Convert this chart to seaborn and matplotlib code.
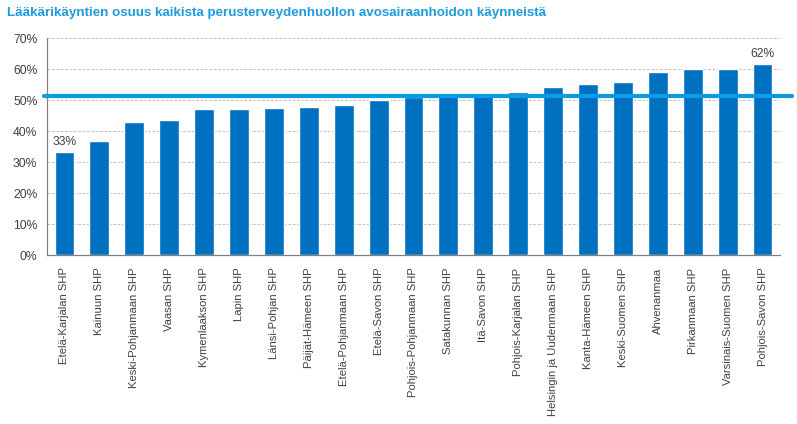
import matplotlib
matplotlib.use("Agg")
import matplotlib.pyplot as plt
import matplotlib.ticker as mticker
import seaborn as sns
import pandas as pd

# data
regions = [
    "Etelä-Karjalan SHP", "Kainuun SHP", "Keski-Pohjanmaan SHP", "Vaasan SHP",
    "Kymenlaakson SHP", "Lapin SHP", "Länsi-Pohjan SHP", "Päijät-Hämeen SHP",
    "Etelä-Pohjanmaan SHP", "Etelä-Savon SHP", "Pohjois-Pohjanmaan SHP",
    "Satakunnan SHP", "Itä-Savon SHP", "Pohjois-Karjalan SHP",
    "Helsingin ja Uudenmaan SHP", "Kanta-Hämeen SHP", "Keski-Suomen SHP",
    "Ahvenanmaa", "Pirkanmaan SHP", "Varsinais-Suomen SHP", "Pohjois-Savon SHP",
]
share = [0.333, 0.368, 0.429, 0.435, 0.471, 0.473, 0.476, 0.479, 0.485, 0.500,
         0.510, 0.512, 0.514, 0.526, 0.542, 0.551, 0.559, 0.590, 0.600, 0.600, 0.618]
average = 0.515
title = "Lääkärikäyntien osuus kaikista perusterveydenhuollon avosairaanhoidon käynneistä"

df = pd.DataFrame({"region": regions, "share": share})

sns.set_style("white")
plt.rcParams["font.family"] = ["Liberation Sans", "DejaVu Sans"]
text_col = "#404040"

fig = plt.figure(figsize=(7.97, 4.24), dpi=100)
ax = fig.add_axes([47 / 797, 1 - 255 / 424, 733 / 797, (255 - 38.3) / 424])

sns.barplot(data=df, x="region", y="share", color="#0070C0", saturation=1,
            width=0.57, ax=ax, zorder=2)

ax.set_ylim(0, 0.7)
ax.set_xlim(-0.5, len(regions) - 0.5)
ax.yaxis.set_major_locator(mticker.MultipleLocator(0.1))
ax.yaxis.set_major_formatter(mticker.PercentFormatter(1.0, decimals=0))
ax.grid(axis="y", color="#c4c4c4", linestyle=(0, (3, 1.5)), linewidth=0.7, zorder=0)
ax.set_axisbelow(True)
ax.set_xlabel("")
ax.set_ylabel("")

for side in ["top", "right"]:
    ax.spines[side].set_visible(False)
for side in ["left", "bottom"]:
    ax.spines[side].set_color("#808080")
    ax.spines[side].set_linewidth(0.9)

ax.tick_params(axis="y", labelsize=8.7, colors=text_col, length=0, pad=7)
ax.tick_params(axis="x", labelsize=8.1, colors=text_col, length=0, pad=9)
plt.setp(ax.get_xticklabels(), rotation=90)

# average line, runs a bit past the axes
ax.plot([-0.6, len(regions) - 0.15], [average, average], color="#0A9BE3",
        linewidth=3.0, clip_on=False, zorder=3, solid_capstyle="round")

# value labels for min and max
ax.text(0, share[0] + 0.012, f"{share[0]:.0%}", ha="center", va="bottom",
        fontsize=8.7, color=text_col)
ax.text(len(regions) - 1, share[-1] + 0.012, f"{share[-1]:.0%}", ha="center",
        va="bottom", fontsize=8.7, color=text_col)

fig.text(7 / 797, 1 - 13 / 424, title, fontsize=9.6, fontweight="bold",
         color="#1E9BDC", ha="left", va="center")

fig.savefig("out.png", dpi=100)
